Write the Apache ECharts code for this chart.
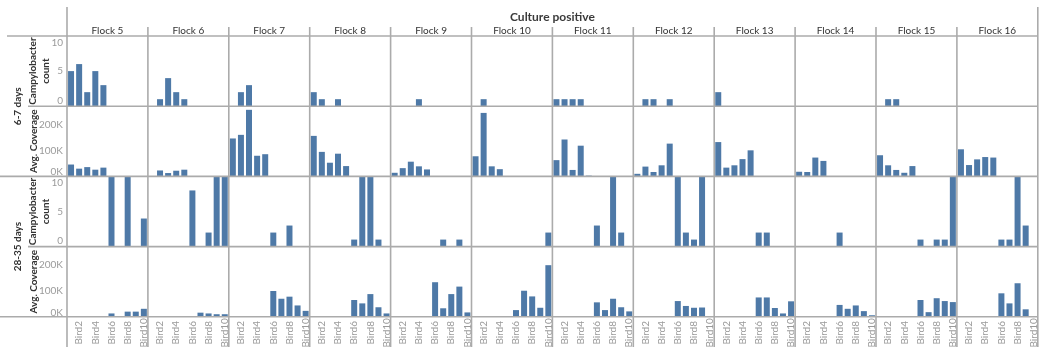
<!DOCTYPE html>
<html>
<head>
<meta charset="utf-8">
<title>Culture positive flocks</title>
<script src="https://cdn.jsdelivr.net/npm/echarts@6/dist/echarts.min.js"></script>
<style>
  html, body { margin: 0; padding: 0; background: #ffffff; }
  #chart { width: 1041px; height: 353px; }
</style>
</head>
<body>
<div id="chart"></div>
<script>
// ---- data -------------------------------------------------------------
const headerTitle = 'Culture positive';
const flocks = ['Flock 5', 'Flock 6', 'Flock 7', 'Flock 8', 'Flock 9', 'Flock 10',
                'Flock 11', 'Flock 12', 'Flock 13', 'Flock 14', 'Flock 15', 'Flock 16'];
const birds = ['Bird1', 'Bird2', 'Bird3', 'Bird4', 'Bird5',
               'Bird6', 'Bird7', 'Bird8', 'Bird9', 'Bird10'];
const ageGroups = ['6-7 days', '28-35 days'];
const measureNames = ['Campylobacter\ncount', 'Avg. Coverage'];

// birds sampled in each age group (index into `birds`)
const birdsEarly = [0, 1, 2, 3, 4];   // Bird1..Bird5 at 6-7 days
const birdsLate  = [5, 6, 7, 8, 9];   // Bird6..Bird10 at 28-35 days

// Campylobacter count, 6-7 days (one row per flock, Bird1..Bird5)
const count67 = [
  [5, 6, 2, 5, 3],
  [0, 1, 4, 2, 1],
  [0, 2, 3, 0, 0],
  [2, 1, 0, 1, 0],
  [0, 0, 0, 1, 0],
  [0, 1, 0, 0, null],
  [1, 1, 1, 1, 0],
  [0, 1, 1, 0, 1],
  [2, 0, 0, 0, 0],
  [0, 0, 0, 0, null],
  [0, 1, 1, 0, 0],
  [0, 0, 0, 0, 0]
];

// Avg. coverage, 6-7 days (Bird1..Bird5)
const coverage67 = [
  [46000, 30000, 36000, 26000, 34000],
  [null, 23000, 13000, 22000, 26000],
  [147000, 161000, 258000, 80000, 86000],
  [157000, 95000, 53000, 88000, 40000],
  [14000, 32000, 57000, 39000, 27000],
  [78000, 246000, 39000, 28000, null],
  [63000, 143000, 25000, 119000, 3000],
  [10000, 38000, 17000, 43000, 127000],
  [133000, 34000, 43000, 67000, 101000],
  [18000, 17000, 73000, 60000, null],
  [82000, 43000, 25000, 14000, 40000],
  [105000, 44000, 66000, 75000, 73000]
];

// Campylobacter count, 28-35 days (Bird6..Bird10)
const count2835 = [
  [10, 0, 10, 0, 4],
  [8, 0, 2, 10, 10],
  [2, 0, 3, 0, 0],
  [1, 10, 10, 1, 0],
  [0, 1, 0, 1, 0],
  [0, 0, 0, 0, 2],
  [3, 0, 10, 2, 0],
  [10, 2, 1, 10, null],
  [2, 2, 0, 0, 0],
  [2, 0, 0, 0, 0],
  [1, 0, 1, 1, 10],
  [1, 1, 10, 3, null]
];

// Avg. coverage, 28-35 days (Bird6..Bird10)
const coverage2835 = [
  [13000, null, 20000, 20000, 31000],
  [null, 16000, 13000, 10000, 10000],
  [100000, 70000, 78000, 44000, 23000],
  [65000, 52000, 88000, 37000, 13000],
  [134000, 33000, 88000, 117000, 17000],
  [26000, 101000, 79000, 35000, 200000],
  [56000, 26000, 70000, 37000, 21000],
  [61000, 42000, 35000, 36000, null],
  [75000, 75000, 34000, 13000, 60000],
  [46000, 31000, 44000, 22000, 6000],
  [65000, 18000, 72000, 61000, 57000],
  [91000, 52000, 130000, 29000, null]
];

// axis ranges and ticks
const countAxis = { max: 10, interval: 5 };
const coverageAxis = { max: 272000, interval: 100000 };

// ---- layout -----------------------------------------------------------
const PLOT_LEFT = 67;
const COL_W = 80.9;
const PLOT_TOP = 36;
const ROW_H = 70.2;
const PLOT_RIGHT = PLOT_LEFT + COL_W * flocks.length;
const PLOT_BOTTOM = PLOT_TOP + ROW_H * 4;
const BAR_COLOR = '#4e79a7';
const RULE_COLOR = '#ababab';
const FONT = 'Lato, "Open Sans", sans-serif';

// each panel row: [age group, measure]
const panelRows = [
  { data: count67, slots: birdsEarly, axis: countAxis, kind: 'count' },
  { data: coverage67, slots: birdsEarly, axis: coverageAxis, kind: 'coverage' },
  { data: count2835, slots: birdsLate, axis: countAxis, kind: 'count' },
  { data: coverage2835, slots: birdsLate, axis: coverageAxis, kind: 'coverage' }
];

function spread(values, slots) {
  const out = birds.map(() => null);
  slots.forEach((b, i) => { out[b] = values[i]; });
  return out;
}

function countLabel(v) {
  if (v === countAxis.max) return '{hi|' + v + '}';
  if (v === 0) return '{lo|0}';
  return String(v);
}
function coverageLabel(v) {
  if (v === 0) return '{lo|0K}';
  if (v % coverageAxis.interval !== 0) return '';
  return (v / 1000) + 'K';
}

const tickText = { color: '#9a9a9a', fontSize: 10, fontFamily: FONT };

const grids = [], xAxes = [], yAxes = [], series = [];
panelRows.forEach((row, r) => {
  flocks.forEach((flock, c) => {
    const idx = grids.length;
    grids.push({
      left: PLOT_LEFT + c * COL_W,
      top: PLOT_TOP + r * ROW_H,
      width: COL_W,
      height: ROW_H,
      containLabel: false
    });
    xAxes.push({
      type: 'category',
      gridIndex: idx,
      data: birds,
      boundaryGap: true,
      axisLine: { show: false },
      axisTick: { show: false },
      splitLine: { show: false },
      axisLabel: {
        show: r === panelRows.length - 1,
        interval: (i) => i % 2 === 1,
        rotate: 90,
        align: 'center',
        verticalAlign: 'middle',
        margin: 16,
        ...tickText
      }
    });
    yAxes.push({
      type: 'value',
      gridIndex: idx,
      min: 0,
      max: row.axis.max,
      interval: row.axis.interval,
      axisLine: { show: false },
      axisTick: { show: false },
      splitLine: { show: false },
      axisLabel: {
        show: c === 0,
        margin: 4,
        formatter: row.kind === 'count' ? countLabel : coverageLabel,
        ...tickText,
        rich: {
          hi: { ...tickText, padding: [13, 0, 0, 0] },
          lo: { ...tickText, padding: [0, 0, row.kind === 'count' ? 11 : 9, 0] }
        }
      }
    });
    series.push({
      type: 'bar',
      name: flock,
      xAxisIndex: idx,
      yAxisIndex: idx,
      data: spread(row.data[c], row.slots),
      barWidth: 6,
      itemStyle: { color: BAR_COLOR },
      silent: true
    });
  });
});

// ---- frame rules and headers -------------------------------------------
function rule(x1, y1, x2, y2) {
  return {
    type: 'line', silent: true, z: 10,
    shape: { x1, y1, x2, y2 },
    style: { stroke: RULE_COLOR, lineWidth: 1.6 }
  };
}
function label(text, x, y, opts) {
  const o = opts || {};
  return {
    type: 'text', silent: true, z: 11,
    x, y, rotation: o.rotation || 0,
    style: {
      text,
      fill: o.color || '#333333',
      fontSize: o.size || 10,
      fontWeight: o.weight || 'normal',
      fontFamily: FONT,
      lineHeight: o.lineHeight || 13,
      align: 'center', verticalAlign: 'middle',
      textAlign: 'center', textVerticalAlign: 'middle'
    }
  };
}

const graphics = [];
const FRAME_TOP = 7, FRAME_BOTTOM = 347, COL_HEAD_TOP = 27;
graphics.push(rule(PLOT_LEFT, FRAME_TOP, PLOT_LEFT, FRAME_BOTTOM));
graphics.push(rule(PLOT_RIGHT, FRAME_TOP, PLOT_RIGHT, FRAME_BOTTOM));
for (let c = 1; c < flocks.length; c++) {
  const x = PLOT_LEFT + c * COL_W;
  graphics.push(rule(x, COL_HEAD_TOP, x, FRAME_BOTTOM));
}
graphics.push(rule(7, PLOT_TOP, PLOT_RIGHT, PLOT_TOP));
for (let r = 1; r <= 4; r++) {
  const y = PLOT_TOP + r * ROW_H;
  graphics.push(rule(r % 2 === 0 ? 0 : 28, y, PLOT_RIGHT, y));
}

graphics.push(label(headerTitle, (PLOT_LEFT + PLOT_RIGHT) / 2, 17,
  { size: 12, weight: 'bold', color: '#3a3a3a' }));
flocks.forEach((f, c) => {
  graphics.push(label(f, PLOT_LEFT + (c + 0.5) * COL_W, 31, { size: 10, color: '#333333' }));
});
ageGroups.forEach((g, a) => {
  graphics.push(label(g, 17.5, PLOT_TOP + (a * 2 + 1) * ROW_H,
    { rotation: Math.PI / 2, weight: 'bold', size: 10 }));
  measureNames.forEach((m, k) => {
    const twoLines = m.indexOf('\n') >= 0;
    graphics.push(label(m, twoLines ? 39.5 : 34, PLOT_TOP + (a * 2 + k + 0.5) * ROW_H,
      { rotation: Math.PI / 2, weight: 'bold', size: 10, lineHeight: 13 }));
  });
});

const chart = echarts.init(document.getElementById('chart'), null, { renderer: 'canvas' });
chart.setOption({
  animation: false,
  backgroundColor: '#ffffff',
  grid: grids,
  xAxis: xAxes,
  yAxis: yAxes,
  series: series,
  graphic: { elements: graphics }
});
</script>
</body>
</html>
